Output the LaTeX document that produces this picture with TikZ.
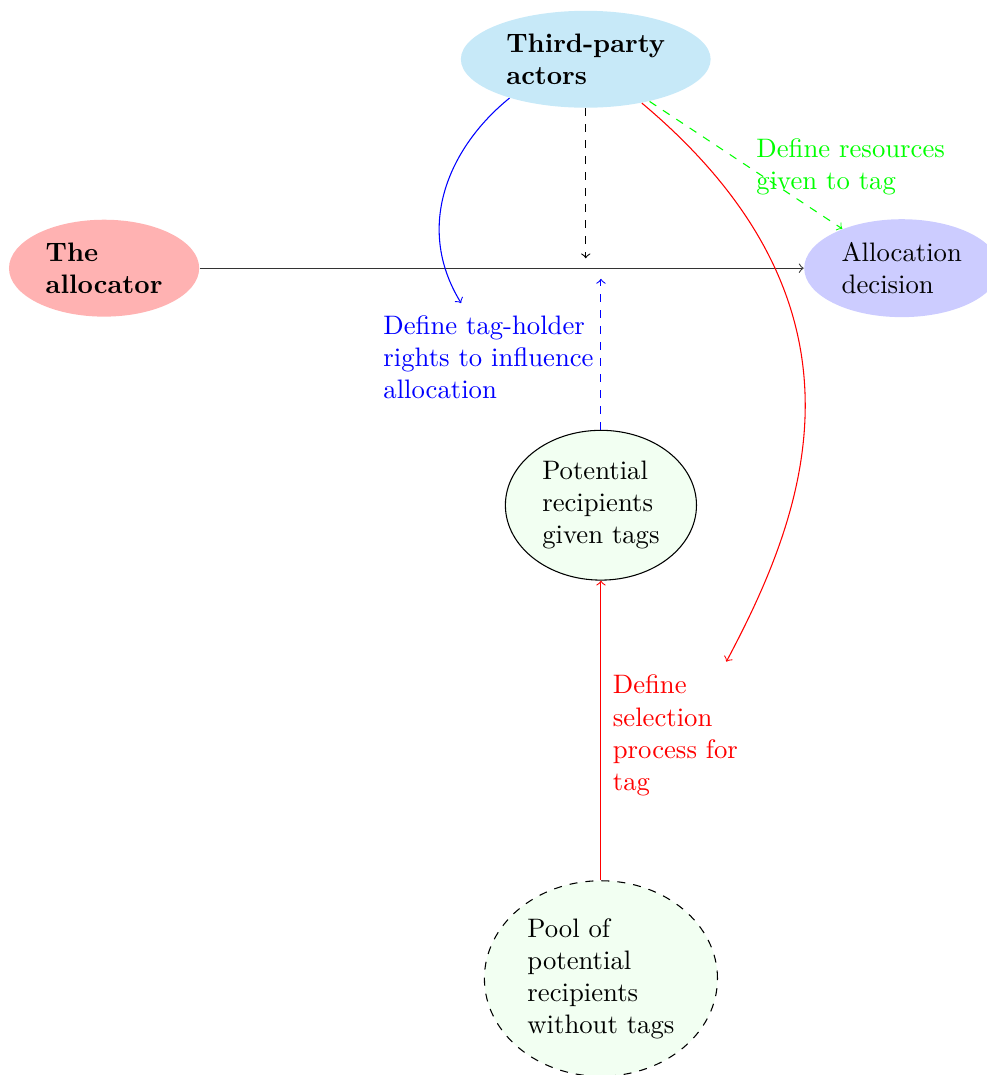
\documentclass[tikz,border=0pt]{standalone}
\usepackage{tikz}
\usetikzlibrary{shapes.geometric}
\definecolor{actorblue}{RGB}{199,233,248}
\tikzstyle{party}=[shape=ellipse, align=left]
\tikzstyle{lbl}=[anchor=north west, align=left, inner sep=0]

\begin{document}
\begin{tikzpicture}
\useasboundingbox (0,0) rectangle (12.99,-14.15);
\node at (7.71,-0.78)[party, fill=actorblue, font=\bfseries](tp){Third-party\\actors};
\node at (1.37,-3.53)[party, fill=red!30, font=\bfseries](alloc){The\\allocator};
\node at (11.87,-3.53)[party, fill=blue!20](dec){Allocation\\decision};
\node at (7.91,-6.65)[party, draw, fill=green!5](rec){Potential\\recipients\\given tags};
\node at (7.91,-12.88)[party, draw, dashed, fill=green!5](pool){Pool of\\potential\\recipients\\without tags};
\coordinate (down) at (7.71,-3.40);
\coordinate (up) at (7.91,-3.67);
\coordinate (rights) at (6.07,-3.99);
\coordinate (select) at (9.56,-8.71);
\draw[->, black!80] (alloc)--(dec);
\draw[->, dashed] (tp)--(down);
\draw[->, dashed, blue] (rec)--(up);
\draw[->, dashed, green] (tp)--(dec);
\draw[->, red] (pool)--(rec);
\draw[->, blue] (tp.207) .. controls +(219:1.0) and +(121.5:1.2) .. (rights);
\draw[->, red] (tp.-38) .. controls +(-40:4.2) and +(62:2.2) .. (select);
\node at (5.04,-4.15)[lbl, blue](rightslbl){Define tag-holder\\rights to influence\\allocation};
\node at (9.95,-1.82)[lbl, green](reslbl){Define resources\\given to tag};
\node at (8.06,-8.88)[lbl, red](sellbl){Define\\selection\\process for\\tag};
\end{tikzpicture}
\end{document}
